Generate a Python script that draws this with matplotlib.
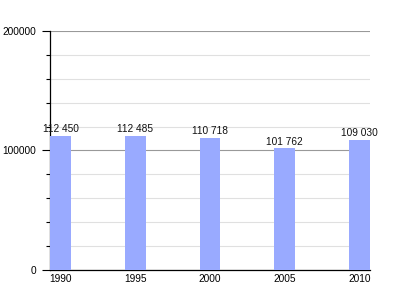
import matplotlib
matplotlib.use("Agg")
import matplotlib.pyplot as plt
from matplotlib.ticker import MultipleLocator

# data
years = ["1990", "1995", "2000", "2005", "2010"]
values = [112450, 112485, 110718, 101762, 109030]
labels = ["112 450", "112 485", "110 718", "101 762", "109 030"]

plt.rcParams['font.family'] = ['Liberation Sans', 'DejaVu Sans']

fig = plt.figure(figsize=(4, 3), dpi=100)
ax = fig.add_axes([0.125, 0.1, 0.8, 0.7967])

x = list(range(len(years)))
bars = ax.bar(x, values, width=0.28, color="#99aaff", zorder=3)
for b, lab in zip(bars, labels):
    ax.text(b.get_x() + b.get_width() / 2, b.get_height() + 1500, lab,
            ha="center", va="bottom", fontsize=7.3, color="#111111", zorder=4)

ax.set_xlim(-0.14, 4.14)
ax.set_ylim(0, 200000)
ax.set_xticks(x)
ax.set_xticklabels(years, fontsize=7.3)
ax.tick_params(axis="x", length=0, pad=3)

ax.yaxis.set_major_locator(MultipleLocator(100000))
ax.yaxis.set_minor_locator(MultipleLocator(20000))
ax.tick_params(axis="y", which="major", length=6, width=0.8, labelsize=7.3, pad=4)
ax.tick_params(axis="y", which="minor", length=3, width=0.8)
ax.grid(axis="y", which="major", color="#999999", linewidth=0.8, zorder=0)
ax.grid(axis="y", which="minor", color="#e0e0e0", linewidth=0.8, zorder=0)

for s in ["top", "right"]:
    ax.spines[s].set_visible(False)
ax.spines["left"].set_linewidth(0.9)
ax.spines["bottom"].set_linewidth(0.9)

fig.savefig("out.png", dpi=100)
